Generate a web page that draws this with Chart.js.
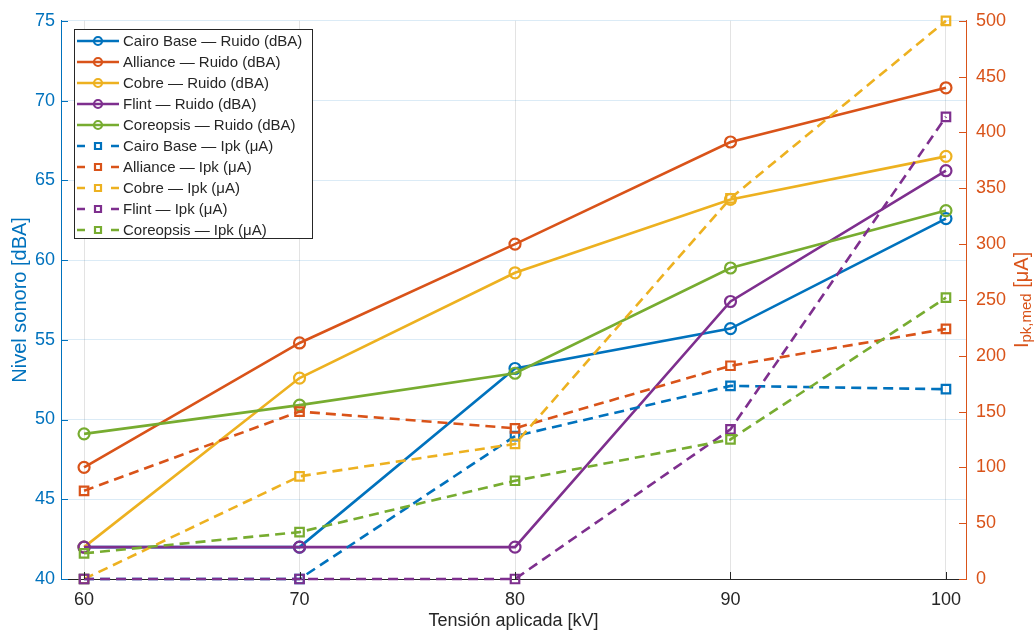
<!DOCTYPE html>
<html lang="es">
<head>
<meta charset="utf-8">
<title>Ruido e Ipk vs tensión aplicada</title>
<script src="https://cdn.jsdelivr.net/npm/chart.js@4.4.1/dist/chart.umd.min.js"></script>
<style>
  html, body { margin: 0; padding: 0; background: #fff; }
  #wrap { width: 1036px; height: 633px; }
</style>
</head>
<body>
<div id="wrap"><canvas id="chart" width="1036" height="633"></canvas></div>
<script>
// =========================================
// DATOS
// =========================================
const tensiones = [60, 70, 80, 90, 100];           // kV
const xTicks = [60, 70, 80, 90, 100];

// Nivel sonoro [dBA]
const ruidoCairo     = [42.0, 42.0, 53.2, 55.7, 62.6];
const ruidoAlliance  = [47.0, 54.8, 61.0, 67.4, 70.8];
const ruidoCobre     = [42.0, 52.6, 59.2, 63.8, 66.5];
const ruidoFlint     = [42.0, 42.0, 42.0, 57.4, 65.6];
const ruidoCoreopsis = [49.1, 50.9, 52.9, 59.5, 63.1];

// Ipk medio [uA]
const ipkCairo     = [0, 0, 128, 173, 170];
const ipkAlliance  = [79, 150, 135, 191, 224];
const ipkCobre     = [0, 92, 121, 341, 500];
const ipkFlint     = [0, 0, 0, 134, 414];
const ipkCoreopsis = [23, 42, 88, 125, 252];

const nombres = ['Cairo Base', 'Alliance', 'Cobre', 'Flint', 'Coreopsis'];

// =========================================
// ESTILO
// =========================================
const colores = ['#0072BD', '#D95319', '#EDB120', '#7E2F8E', '#77AC30'];
const AZUL = '#0072BD';
const NARANJA = '#D95319';
const GRIS = '#262626';
const FONT = '"Liberation Sans", Arial, Helvetica, sans-serif';

const toPts = vals => tensiones.map((x, i) => ({ x, y: vals[i] }));

const ruido = [ruidoCairo, ruidoAlliance, ruidoCobre, ruidoFlint, ruidoCoreopsis];
const ipk = [ipkCairo, ipkAlliance, ipkCobre, ipkFlint, ipkCoreopsis];

const datasets = [];
nombres.forEach((n, i) => {
    datasets.push({
        label: `${n} — Ruido (dBA)`,
        data: toPts(ruido[i]),
        yAxisID: 'yL',
        borderColor: colores[i],
        backgroundColor: 'rgba(0,0,0,0)',
        borderWidth: 2.6,
        pointStyle: 'circle',
        pointRadius: 5.5,
        pointBorderWidth: 2.2,
        pointBackgroundColor: 'rgba(0,0,0,0)',
        tension: 0,
        clip: false
    });
});
nombres.forEach((n, i) => {
    datasets.push({
        label: `${n} — Ipk (μA)`,
        data: toPts(ipk[i]),
        yAxisID: 'yR',
        borderColor: colores[i],
        backgroundColor: 'rgba(0,0,0,0)',
        borderWidth: 2.6,
        borderDash: [10, 6],
        pointStyle: 'rect',
        pointRadius: 6,
        pointBorderWidth: 2.2,
        pointBackgroundColor: 'rgba(0,0,0,0)',
        tension: 0,
        clip: false
    });
});
// las últimas series quedan encima (como en MATLAB)
datasets.forEach((d, i) => d.order = 100 - i);

// =========================================
// PLUGINS: ticks hacia dentro, leyenda, etiqueta derecha
// =========================================
const innerTicks = {
    id: 'innerTicks',
    afterDraw(chart) {
        const { ctx, chartArea: a, scales } = chart;
        const len = 7;
        ctx.save();
        ctx.lineWidth = 1;
        ctx.strokeStyle = AZUL;
        scales.yL.ticks.forEach(t => {
            const y = Math.round(scales.yL.getPixelForValue(t.value)) + 0.5;
            ctx.beginPath(); ctx.moveTo(a.left, y); ctx.lineTo(a.left + len, y); ctx.stroke();
        });
        ctx.strokeStyle = NARANJA;
        scales.yR.ticks.forEach(t => {
            const y = Math.round(scales.yR.getPixelForValue(t.value)) + 0.5;
            ctx.beginPath(); ctx.moveTo(a.right, y); ctx.lineTo(a.right - len, y); ctx.stroke();
        });
        ctx.strokeStyle = GRIS;
        scales.x.ticks.forEach(t => {
            const x = Math.round(scales.x.getPixelForValue(t.value)) + 0.5;
            ctx.beginPath(); ctx.moveTo(x, a.bottom); ctx.lineTo(x, a.bottom - len); ctx.stroke();
        });
        ctx.restore();
    }
};

const legendBox = { x: 74, y: 29, w: 238, h: 209, row: 21 };

const boxLegend = {
    id: 'boxLegend',
    afterDraw(chart) {
        const ctx = chart.ctx;
        const b = legendBox;
        ctx.save();
        ctx.fillStyle = '#fff';
        ctx.fillRect(b.x, b.y, b.w, b.h);
        ctx.strokeStyle = GRIS;
        ctx.lineWidth = 1;
        ctx.strokeRect(b.x + 0.5, b.y + 0.5, b.w, b.h);

        ctx.font = `15px ${FONT}`;
        ctx.textBaseline = 'middle';
        chart.data.datasets.forEach((ds, i) => {
            const cy = b.y + 12 + i * b.row;
            const x0 = b.x + 3, x1 = b.x + 45, mx = (x0 + x1) / 2;
            ctx.strokeStyle = ds.borderColor;
            ctx.lineWidth = 2.6;
            ctx.setLineDash([]);
            ctx.beginPath();
            if (ds.borderDash) {
                ctx.moveTo(x0, cy); ctx.lineTo(x0 + 8, cy);
                ctx.moveTo(x1 - 8, cy); ctx.lineTo(x1, cy);
            } else {
                ctx.moveTo(x0, cy); ctx.lineTo(x1, cy);
            }
            ctx.stroke();
            ctx.lineWidth = 2.2;
            ctx.beginPath();
            if (ds.pointStyle === 'rect') {
                ctx.rect(mx - 3, cy - 3, 6, 6);
            } else {
                ctx.arc(mx, cy, 4, 0, Math.PI * 2);
            }
            ctx.stroke();
            ctx.fillStyle = GRIS;
            ctx.fillText(ds.label, b.x + 49, cy + 1);
        });
        ctx.restore();
    }
};

const rightTitle = {
    id: 'rightTitle',
    afterDraw(chart) {
        const { ctx, chartArea: a } = chart;
        const cx = 1022, cy = (a.top + a.bottom) / 2;
        const big = `20px ${FONT}`, small = `15px ${FONT}`;
        const parts = [['I', big, 0], ['pk,med', small, 5], [' [μA]', big, 0]];
        ctx.save();
        let total = 0;
        parts.forEach(p => { ctx.font = p[1]; total += ctx.measureText(p[0]).width; });
        ctx.translate(cx, cy);
        ctx.rotate(-Math.PI / 2);
        ctx.fillStyle = NARANJA;
        ctx.textBaseline = 'middle';
        let x = -total / 2;
        parts.forEach(p => {
            ctx.font = p[1];
            ctx.fillText(p[0], x, p[2]);
            x += ctx.measureText(p[0]).width;
        });
        ctx.restore();
    }
};

// =========================================
// GRÁFICO
// =========================================
const ctx = document.getElementById('chart');

new Chart(ctx, {
    type: 'line',
    data: { datasets },
    options: {
        responsive: false,
        animation: false,
        devicePixelRatio: 1,
        layout: { padding: { top: 17, left: 0, right: 0, bottom: 0 } },
        plugins: {
            legend: { display: false },
            tooltip: { enabled: false }
        },
        scales: {
            x: {
                type: 'linear',
                min: 58.93,
                max: 100.93,
                afterBuildTicks: s => { s.ticks = xTicks.map(v => ({ value: v })); },
                afterFit: s => { s.height = 54; },
                grid: { color: 'rgba(38,38,38,0.13)', drawTicks: false },
                border: { color: GRIS, width: 1 },
                ticks: { color: GRIS, padding: 10, font: { family: FONT, size: 18 } },
                title: {
                    display: true,
                    text: 'Tensión aplicada [kV]',
                    color: GRIS,
                    font: { family: FONT, size: 18 },
                    padding: { top: 0, bottom: 1 }
                }
            },
            yL: {
                type: 'linear',
                position: 'left',
                min: 40,
                max: 75,
                ticks: { stepSize: 5, color: AZUL, padding: 6, font: { family: FONT, size: 18 } },
                afterFit: s => { s.width = 61; },
                grid: { color: 'rgba(0,114,189,0.14)', drawTicks: false },
                border: { color: AZUL, width: 1 },
                title: {
                    display: true,
                    text: 'Nivel sonoro [dBA]',
                    color: AZUL,
                    font: { family: FONT, size: 20 },
                    padding: { top: 8, bottom: 0 }
                }
            },
            yR: {
                type: 'linear',
                position: 'right',
                min: 0,
                max: 500,
                ticks: { stepSize: 50, color: NARANJA, padding: 10, font: { family: FONT, size: 18 } },
                afterFit: s => { s.width = 70; },
                grid: { display: false, drawTicks: false },
                border: { color: NARANJA, width: 1 }
            }
        }
    },
    plugins: [innerTicks, boxLegend, rightTitle]
});
</script>
</body>
</html>
